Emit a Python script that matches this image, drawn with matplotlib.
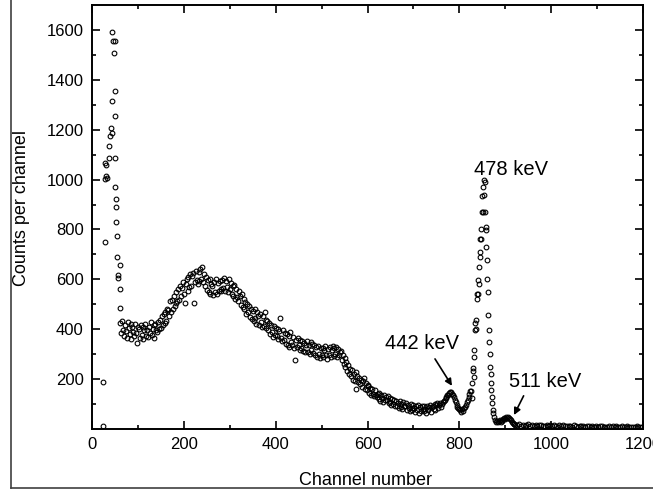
import numpy as np
import matplotlib.pyplot as plt
from matplotlib.lines import Line2D

plt.rcParams['font.family'] = ['Liberation Sans', 'DejaVu Sans']

# low energy spike (channels)
spike_ch = [23, 25, 28, 28, 29, 30, 31, 33, 36, 37, 39, 41, 43, 44, 44, 45,
            48, 50, 50, 50, 50, 51, 52, 52, 53, 54, 55, 57, 57, 60, 61, 61]
spike_cnt = [12, 188, 748, 1065, 1004, 1016, 1060, 1008, 1085, 1136, 1176, 1208,
             1316, 1188, 1592, 1555, 1509, 1555, 1355, 1256, 1085, 969, 923, 889,
             829, 772, 688, 616, 605, 656, 563, 485]

# continuum, every second channel from 62 to 824
cont_start, cont_step = 62, 2
cont_cnt = [
    425, 385, 432, 398, 372, 418, 392, 365, 428, 405,
    380, 420, 362, 410, 390, 372, 422, 385, 345, 408,
    402, 365, 418, 378, 408, 360, 398, 420, 372, 395,
    368, 410, 385, 428, 375, 402, 418, 365, 422, 398,
    388, 428, 400, 438, 405, 452, 418, 462, 425, 468,
    432, 482, 478, 455, 512, 470, 518, 482, 532, 492,
    505, 548, 512, 562, 518, 575, 535, 565, 588, 540,
    505, 582, 600, 552, 610, 568, 622, 575, 612, 625,
    505, 590, 632, 598, 582, 628, 592, 640, 602, 648,
    588, 620, 575, 608, 558, 598, 550, 602, 540, 582,
    572, 538, 590, 550, 600, 542, 585, 552, 595, 562,
    552, 598, 565, 605, 555, 592, 570, 548, 600, 562,
    585, 540, 575, 532, 578, 522, 562, 530, 512, 552,
    532, 498, 540, 490, 522, 480, 510, 462, 500, 470,
    492, 448, 480, 440, 475, 432, 482, 445, 422, 470,
    455, 418, 462, 430, 410, 452, 412, 470, 438, 405,
    432, 395, 425, 382, 418, 388, 370, 412, 378, 405,
    372, 402, 360, 392, 445, 365, 352, 395, 358, 385,
    342, 380, 335, 372, 330, 388, 348, 338, 370, 325,
    278, 358, 328, 365, 335, 318, 358, 325, 352, 312,
    345, 310, 338, 352, 308, 335, 302, 348, 315, 342,
    305, 335, 298, 328, 290, 332, 302, 285, 325, 298,
    325, 288, 318, 332, 295, 282, 322, 298, 330, 290,
    318, 332, 292, 325, 300, 330, 288, 322, 298, 310,
    312, 278, 298, 262, 285, 248, 268, 232, 255, 222,
    242, 212, 235, 198, 222, 192, 228, 160, 212, 188,
    205, 180, 198, 168, 192, 204, 162, 185, 158, 178,
    172, 146, 165, 138, 160, 142, 132, 155, 136, 128,
    142, 120, 145, 114, 135, 124, 108, 138, 116, 128,
    118, 132, 104, 125, 108, 98, 120, 102, 116, 94,
    112, 92, 106, 84, 114, 90, 102, 80, 108, 94,
    92, 104, 78, 98, 84, 72, 100, 86, 76, 96,
    86, 68, 94, 78, 98, 66, 90, 74, 92, 80,
    74, 92, 82, 64, 94, 78, 88, 96, 70, 90,
    94, 82, 100, 76, 96, 104, 86, 98, 106, 90,
    100, 108, 112, 118, 125, 130, 138, 135, 145, 148,
    150, 142, 138, 128, 118, 108, 95, 90, 84, 80,
    76, 70, 80, 74, 84, 90, 98, 110, 118, 130, 140, 152,
]

# 478 keV peak
peak_ch = list(range(826, 875)) + [876, 878]
peak_cnt = [152, 125, 185, 232, 243, 210, 316, 290, 396, 424, 436, 400, 543,
            520, 542, 596, 580, 649, 709, 690, 763, 803, 760, 872, 936, 872,
            969, 940, 1000, 989, 872, 809, 796, 729, 676, 600, 549, 456, 396,
            349, 300, 249, 222, 183, 156, 129, 103, 76, 63, 48, 36]

# 511 keV region, every second channel 880..920
bump_start, bump_step = 880, 2
bump_cnt = [30, 34, 28, 32, 36, 30, 38, 34, 40, 44, 42, 48, 45, 50, 46, 42,
            38, 30, 26, 22, 20]

# high channel tail, every 4th channel 922..1198
tail_start, tail_step = 922, 4
tail_cnt = [18, 15, 20, 14, 17, 12, 16, 19, 13, 15,
            14, 17, 12, 15, 18, 11, 14, 16, 13, 15,
            12, 16, 14, 10, 15, 13, 17, 11, 14, 12,
            13, 10, 15, 12, 9, 14, 11, 13, 10, 12,
            11, 9, 13, 10, 12, 8, 11, 14, 9, 10,
            10, 12, 8, 11, 9, 12, 7, 10, 11, 8,
            9, 11, 8, 10, 7, 9, 11, 8, 10, 9]

cont_ch = cont_start + cont_step * np.arange(len(cont_cnt))
bump_ch = bump_start + bump_step * np.arange(len(bump_cnt))
tail_ch = tail_start + tail_step * np.arange(len(tail_cnt))

x = np.concatenate([spike_ch, cont_ch, peak_ch, bump_ch, tail_ch])
y = np.concatenate([spike_cnt, cont_cnt, peak_cnt, bump_cnt, tail_cnt])

fig = plt.figure(figsize=(6.53, 4.97), dpi=100)
ax = fig.add_axes([92/653, 1-429/497, (643-92)/653, (429-5)/497])

ax.plot(x, y, 'o', ms=3.4, mfc='none', mec='k', mew=0.8, ls='none')

ax.set_xlim(0, 1200)
ax.set_ylim(0, 1700)
ax.set_xticks(range(0, 1201, 200))
ax.set_xticks(range(100, 1200, 200), minor=True)
ax.set_yticks(range(200, 1601, 200))
ax.set_yticks(range(100, 1700, 200), minor=True)
ax.tick_params(which='both', direction='in', top=True, right=True, labelsize=12, width=1.2)
ax.tick_params(which='major', length=6, pad=6)
ax.tick_params(which='minor', length=3)
for s in ax.spines.values():
    s.set_linewidth(1.4)

fig.text(0.033, 0.581, 'Counts per channel', rotation=90, ha='center', va='center', fontsize=13)
fig.text(0.560, 0.024, 'Channel number', ha='center', va='baseline', fontsize=13)

arr = dict(arrowstyle='-|>', color='k', lw=1.2, mutation_scale=10, shrinkA=0, shrinkB=0)
ax.annotate('478 keV', xy=(832, 1040), ha='left', va='center', fontsize=14.5)
ax.annotate('442 keV', xy=(638, 341), ha='left', va='center', fontsize=14.5)
ax.annotate('', xy=(784, 173), xytext=(747, 281), arrowprops=arr)
ax.annotate('511 keV', xy=(908, 190), ha='left', va='center', fontsize=14.5)
ax.annotate('', xy=(919, 56), xytext=(940, 133), arrowprops=arr)

# scan frame
fig.add_artist(Line2D([11/653, 11/653], [0.018, 1], transform=fig.transFigure, color='0.25', lw=1.2))
fig.add_artist(Line2D([11/653, 1], [0.018, 0.018], transform=fig.transFigure, color='0.25', lw=1.2))

fig.savefig('out.png', dpi=100)
